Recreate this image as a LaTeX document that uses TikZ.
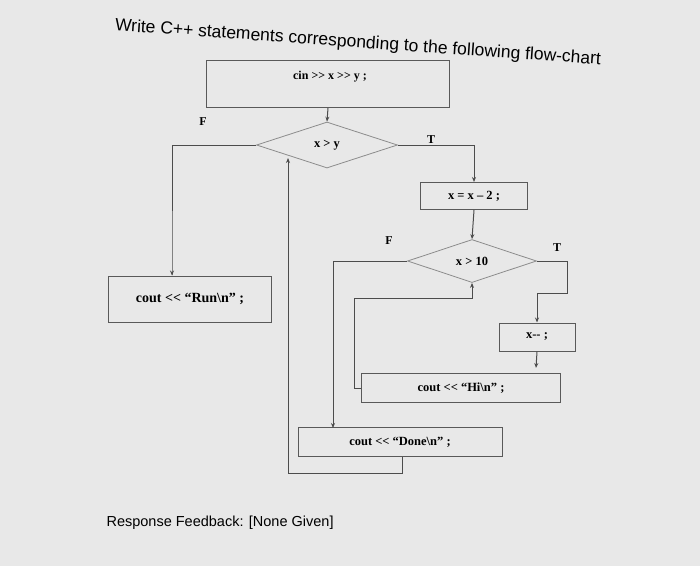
\documentclass[tikz,border=0pt]{standalone}
\usepackage{fontspec}
\setmainfont{Liberation Serif}
\newfontfamily\titlefont{Liberation Sans}
\usetikzlibrary{shapes.geometric,arrows.meta}
\begin{document}
\begin{tikzpicture}[x=1pt,y=-1pt,
  box/.style={draw=black!65,line width=1pt,minimum height=#1,inner sep=0pt,font=\bfseries\fontsize{12.5}{14}\selectfont},
  dia/.style={draw=black!45,line width=0.8pt,diamond,aspect=3,inner sep=0pt,font=\bfseries\fontsize{12.5}{14}\selectfont},
  ln/.style={draw=black!70,line width=1pt},
  arr/.style={ln,-{Stealth[length=5pt,width=4pt]}},
  lbl/.style={font=\bfseries\fontsize{12}{14}\selectfont}]
\fill[gray!18] (0,0) rectangle (700,566);
\useasboundingbox (0,0) rectangle (700,566);
\node[font=\titlefont\fontsize{17.5}{20}\selectfont,rotate=-4] (title) at (358,43) {Write C++ statements corresponding to the following flow-chart};
\node[font=\titlefont\fontsize{14.5}{16}\selectfont,anchor=west] (fb) at (103,523) {Response Feedback: [None Given]};
\node[box=47pt,minimum width=243pt] (cin) at (328,84) {};
\node[lbl] (cint) at (330,77) {cin {>}{>} x {>}{>} y ;};
\node[dia,minimum width=141pt,minimum height=46pt] (d1) at (327,145) {x > y};
\node[box=46pt,minimum width=163pt] (run) at (190,299) {\fontsize{14}{16}\selectfont cout {<}{<} ``Run\textbackslash n'' ;};
\node[box=27pt,minimum width=107pt] (dec) at (474,196) {x = x -- 2 ;};
\node[dia,minimum width=129pt,minimum height=43pt] (d2) at (472,261) {x > 10};
\node[box=28pt,minimum width=76pt] (xmm) at (537,337) {x-{}- ;};
\node[box=29pt,minimum width=199pt] (hi) at (461,388) {cout {<}{<} ``Hi\textbackslash n'' ;};
\node[box=29pt,minimum width=204pt] (done) at (400,442) {cout {<}{<} ``Done\textbackslash n'' ;};
\node[lbl] (f1) at (203,122) {F};
\node[lbl] (t1) at (431,140) {T};
\node[lbl] (f2) at (389,241) {F};
\node[lbl] (t2) at (557,248) {T};
\coordinate (loopend) at (288,158);
\draw[arr] (cin.south) -- (d1.north);
\draw[arr] (d1.west) -| (172,275) -- (run.north -| 172,0);
\draw[arr] (d1.east) -| (dec.north);
\draw[arr] (dec.south) -- (d2.north);
\draw[arr] (d2.west) -| (333,428);
\draw[arr] (d2.east) -| (567,293) -| (xmm.north);
\draw[arr] (xmm.south) -- (536,368);
\draw[arr] (hi.west) -| (354,298) -| (d2.south);
\draw[arr] (done.south -| 402,0) |- (288,473) -- (loopend);
\end{tikzpicture}
\end{document}
